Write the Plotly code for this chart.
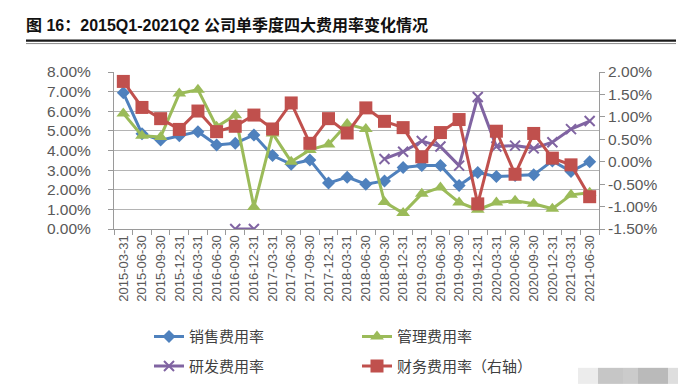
import plotly.graph_objects as go

dates = ["2015-03-31","2015-06-30","2015-09-30","2015-12-31","2016-03-31","2016-06-30",
         "2016-09-30","2016-12-31","2017-03-31","2017-06-30","2017-09-30","2017-12-31",
         "2018-03-31","2018-06-30","2018-09-30","2018-12-31","2019-03-31","2019-06-30",
         "2019-09-30","2019-12-31","2020-03-31","2020-06-30","2020-09-30","2020-12-31",
         "2021-03-31","2021-06-30"]
sales = [6.94,4.85,4.53,4.75,4.96,4.28,4.37,4.79,3.74,3.30,3.52,2.34,2.64,2.28,2.45,3.13,
         3.23,3.23,2.22,2.88,2.67,2.72,2.76,3.47,2.93,3.43]
admin = [5.89,4.75,4.69,6.90,7.10,5.21,5.80,1.12,4.87,3.43,4.03,4.31,5.35,5.09,1.37,0.81,
         1.79,2.12,1.35,0.98,1.35,1.44,1.29,1.03,1.74,1.85]
rnd = [None,None,None,None,None,None,0.0,0.0,None,None,None,None,None,None,3.57,3.94,
       4.48,4.20,3.23,6.73,4.20,4.25,4.11,4.42,5.09,5.50]
fin = [1.79,1.21,0.96,0.72,1.13,0.67,0.79,1.04,0.73,1.31,0.41,0.96,0.64,1.20,0.90,0.76,
       0.11,0.65,0.94,-0.94,0.68,-0.28,0.63,0.08,-0.07,-0.78]

left_ticks = [0,1,2,3,4,5,6,7,8]
left_text = ["0.00%","1.00%","2.00%","3.00%","4.00%","5.00%","6.00%","7.00%","8.00%"]
right_ticks = [-1.5,-1.0,-0.5,0.0,0.5,1.0,1.5,2.0]
right_text = ["-1.50%","-1.00%","-0.50%","0.00%","0.50%","1.00%","1.50%","2.00%"]

title = "图 16：2015Q1-2021Q2 公司单季度四大费用率变化情况"
names = ["销售费用率","管理费用率","研发费用率","财务费用率（右轴）"]

W, H = 686, 386
L, R, T, B = 106, 591, 64.3, 220.7
PW, PH = R - L, B - T

def px_x(x):
    return (x - L) / PW

def px_y(y):
    return (B - y) / PH

TICKFONT = dict(family="Liberation Sans, Arial, sans-serif", size=15.5, color="#595959")
CJK = "Noto Sans CJK SC, sans-serif"

fig = go.Figure()
fig.add_trace(go.Scatter(x=dates, y=sales, name=names[0], mode="lines+markers",
                         line=dict(color="#4F81BD", width=3),
                         marker=dict(symbol="diamond", size=10, color="#4F81BD"),
                         legend="legend"))
fig.add_trace(go.Scatter(x=dates, y=admin, name=names[1], mode="lines+markers",
                         line=dict(color="#9BBB59", width=3),
                         marker=dict(symbol="triangle-up", size=12, color="#9BBB59"),
                         legend="legend"))
fig.add_trace(go.Scatter(x=dates, y=rnd, name=names[2], mode="lines+markers",
                         line=dict(color="#8064A2", width=3), connectgaps=False,
                         marker=dict(symbol="x-thin", size=10,
                                     line=dict(color="#8064A2", width=2), color="#8064A2"),
                         legend="legend2"))
fig.add_trace(go.Scatter(x=dates, y=fin, name=names[3], mode="lines+markers", yaxis="y2",
                         line=dict(color="#C0504D", width=3),
                         marker=dict(symbol="square", size=13, color="#C0504D"),
                         legend="legend2"))

shapes = [
    dict(type="line", xref="paper", yref="paper", x0=px_x(18), x1=px_x(668),
         y0=px_y(33), y1=px_y(33), line=dict(color="#1a1a1a", width=2.2)),
    dict(type="line", xref="paper", yref="paper", x0=px_x(18), x1=px_x(668),
         y0=px_y(36), y1=px_y(36), line=dict(color="#8a8a8a", width=1)),
]
blob = [(570, 590, "#ececec"), (590, 615, "#c6c6c6"), (615, 630, "#cbcbcb"),
        (630, 660, "#bababa"), (660, 675, "#dedede")]
for x0, x1, c in blob:
    shapes.append(dict(type="rect", xref="paper", yref="paper", x0=px_x(x0), x1=px_x(x1),
                       y0=px_y(375), y1=px_y(359), fillcolor=c, line=dict(width=0),
                       layer="above"))

legend_common = dict(orientation="h", xanchor="left", yanchor="middle",
                     font=dict(family=CJK, size=15, color="#404040"),
                     bgcolor="rgba(0,0,0,0)", entrywidth=163, entrywidthmode="pixels",
                     itemwidth=30)

fig.update_layout(
    width=W, height=H,
    margin=dict(l=L, r=W - R, t=T, b=H - B, pad=0),
    paper_bgcolor="white", plot_bgcolor="white",
    title=dict(text="<b>" + title + "</b>", x=18 / W, xanchor="left",
               y=1 - 17 / H, yanchor="middle",
               font=dict(family="Liberation Sans, " + CJK, size=16, color="#111111")),
    xaxis=dict(type="category", tickangle=-90, tickfont=dict(TICKFONT, size=13),
               showline=True, linecolor="#9a9a9a", linewidth=1,
               ticks="outside", tickson="boundaries", ticklen=5, tickcolor="#9a9a9a",
               showgrid=False, range=[-0.5, len(dates) - 0.5]),
    yaxis=dict(range=[0, 8], tickvals=left_ticks, ticktext=left_text, tickfont=TICKFONT,
               showline=True, linecolor="#9a9a9a", linewidth=1,
               ticks="outside", ticklen=5, tickcolor="#9a9a9a", ticklabelstandoff=14,
               showgrid=True, gridcolor="#b4b4b4", gridwidth=1, zeroline=False),
    yaxis2=dict(range=[-1.5, 2.0], tickvals=right_ticks, ticktext=right_text,
                tickfont=TICKFONT, overlaying="y", side="right",
                showline=True, linecolor="#9a9a9a", linewidth=1,
                ticks="outside", ticklen=5, tickcolor="#9a9a9a", ticklabelstandoff=0,
                showgrid=False, zeroline=False),
    legend=dict(legend_common, x=px_x(141), y=px_y(328)),
    legend2=dict(legend_common, x=px_x(141), y=px_y(357.5)),
    shapes=shapes,
    showlegend=True,
)

fig.write_html("out.html")
